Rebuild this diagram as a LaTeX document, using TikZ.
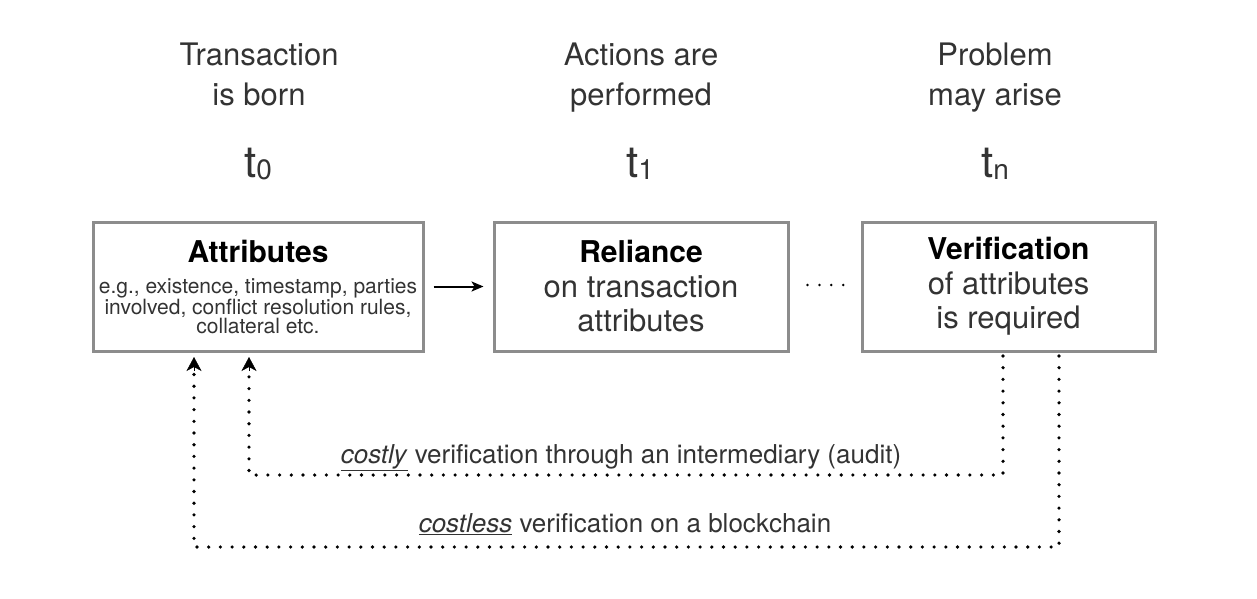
\documentclass[tikz,border=0pt]{standalone}
\usepackage{fontspec}
\setmainfont{TeX Gyre Heros}
\usetikzlibrary{arrows.meta}

\definecolor{ink}{HTML}{333333}
\definecolor{frame}{HTML}{8C8C8C}

\newcommand{\stamp}[1]{t\raisebox{-2pt}{\fontsize{28}{28}\selectfont #1}}

\tikzset{
  stage/.style = {draw = frame, line width = 3pt, text = ink, align = center,
    minimum height = 129pt, inner sep = 0pt, font = \fontsize{31}{34.5}\selectfont},
  moment/.style = {text = ink, align = center, anchor = base,
    font = \fontsize{31}{40}\selectfont},
  tick/.style = {text = ink, anchor = base, font = \fontsize{44}{44}\selectfont},
  dots/.style = {line width = 3.6pt, line cap = round, dash pattern = on 0pt off 11.7pt},
  tip/.style = {-{Stealth[length = 14pt, width = 15pt, inset = 4pt, line width = 0.5pt]}},
  route/.style = {text = ink, anchor = base, font = \fontsize{26}{30}\selectfont}
}

\begin{document}
\begin{tikzpicture}[x = 1pt, y = -1pt]
  \useasboundingbox (0, 0) rectangle (1257, 598);

  \node[moment] (born) at (259, 105) {Transaction\\is born};
  \node[moment] (act) at (641, 105) {Actions are\\performed};
  \node[moment] (arise) at (995, 105) {Problem\\may arise};

  \node[tick] (t0) at (258, 177) {\stamp{0}};
  \node[tick] (t1) at (640, 177) {\stamp{1}};
  \node[tick] (tn) at (995, 177) {\stamp{n}};

  \node[stage, minimum width = 330pt, font = \fontsize{21}{19}\selectfont]
    (attr) at (258, 286.5)
    {{\fontsize{30}{30}\selectfont\color{black}\bfseries Attributes}\\[12pt]
     e.g., existence, timestamp, parties\\
     involved, conflict resolution rules,\\
     collateral etc.};
  \node[stage, minimum width = 294pt] (rely) at (641, 286.5)
    {{\fontsize{30}{34.5}\selectfont\color{black}\bfseries Reliance}\\on transaction\\attributes};
  \node[stage, minimum width = 293pt] (verif) at (1008.5, 286.5)
    {{\fontsize{30}{34.5}\selectfont\color{black}\bfseries Verification}\\of attributes\\is required};

  \draw[line width = 2pt, -{Stealth[length = 12pt, width = 10pt, inset = 3pt]}]
    ([xshift = 9pt]attr.east) -- ([xshift = -9pt]rely.west);
  \draw[line width = 2.8pt, line cap = round, dash pattern = on 0pt off 11.9pt]
    ([xshift = 18pt, yshift = 1.5pt]rely.east) -- ([xshift = -15pt, yshift = 1.5pt]verif.west);

  \coordinate (v1) at (1003, 356);
  \coordinate (v2) at (1059, 356);
  \coordinate (a1) at (249, 357);
  \coordinate (a2) at (194, 357);
  \coordinate (b1) at (249, 371);
  \coordinate (b2) at (194, 371);

  \draw[dots] (v1) -- (1003, 475) -- (249, 475) -- (b1);
  \draw[dots] (v2) -- (1059, 547) -- (194, 547) -- (b2);
  \draw[tip, line width = 1pt] (b1) -- (a1);
  \draw[tip, line width = 1pt] (b2) -- (a2);

  \node[route] (costly) at (621, 463)
    {\underline{\textit{costly}} verification through an intermediary (audit)};
  \node[route] (costless) at (625, 532)
    {\underline{\textit{costless}} verification on a blockchain};
\end{tikzpicture}
\end{document}
